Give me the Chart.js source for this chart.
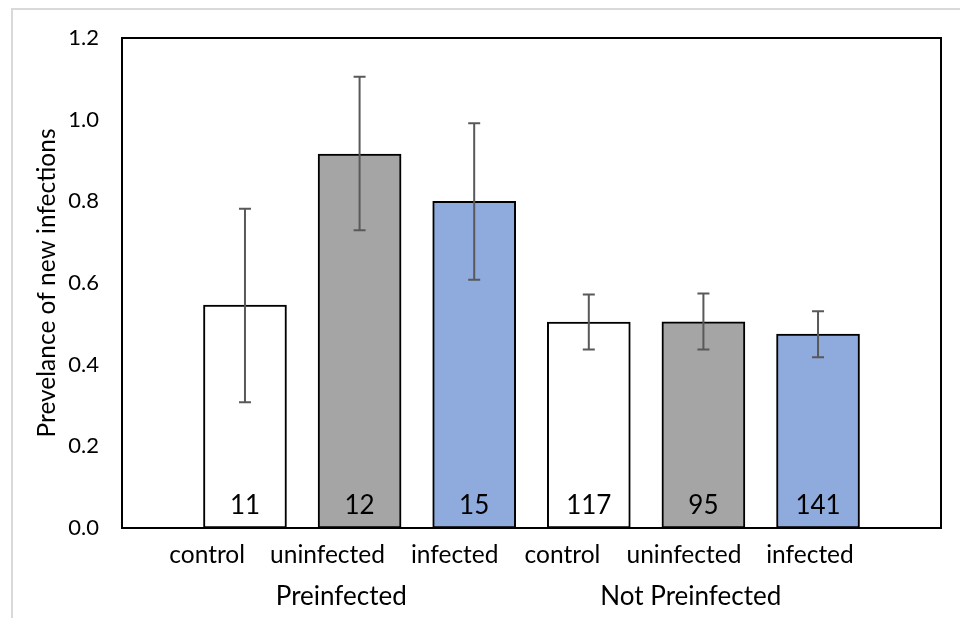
<!DOCTYPE html>
<html>
<head>
<meta charset="utf-8">
<script src="https://cdn.jsdelivr.net/npm/chart.js@4.4.1/dist/chart.umd.min.js"></script>
<style>
  html, body { margin: 0; padding: 0; background: #fff; }
  #frame { position: absolute; left: 11px; top: 8px; width: 1000px; height: 700px;
           border-left: 2px solid #d9d9d9; border-top: 2px solid #d9d9d9; }
  #chart { position: absolute; left: 0; top: 0; }
</style>
</head>
<body>
<div id="frame"></div>
<canvas id="chart" width="960" height="618"></canvas>
<script>
// categories and groups
const categories = ["control", "uninfected", "infected", "control", "uninfected", "infected"];
const groups = ["Preinfected", "Not Preinfected"];

// prevalence of new infections per bar, with error bar ends
const prevalence = [0.546, 0.916, 0.800, 0.504, 0.505, 0.475];
const errHigh = [0.782, 1.105, 0.991, 0.572, 0.574, 0.531];
const errLow = [0.308, 0.729, 0.608, 0.437, 0.437, 0.418];

// sample sizes printed inside bars
const counts = [11, 12, 15, 117, 95, 141];

// y axis ticks
const yTicks = [0, 0.2, 0.4, 0.6, 0.8, 1.0, 1.2];

// where the labels sit along the x axis (bars sit at 1..6)
const labelPos = [0.67, 1.72, 2.83, 3.77, 4.83, 5.93];
const groupPos = [1.84, 4.89];
const countY = 0.055;

const barColors = ["#ffffff", "#a5a5a5", "#8faadc", "#ffffff", "#a5a5a5", "#8faadc"];
const FONT = "Lato, 'Open Sans', sans-serif";

const extras = {
  id: "extras",
  afterDatasetsDraw(chart) {
    const ctx = chart.ctx;
    const x = chart.scales.x, y = chart.scales.y;
    const area = chart.chartArea;

    // error bars
    ctx.save();
    ctx.strokeStyle = "#595959";
    ctx.lineWidth = 2;
    prevalence.forEach((v, i) => {
      const px = x.getPixelForValue(i + 1);
      const hi = y.getPixelForValue(errHigh[i]);
      const lo = y.getPixelForValue(errLow[i]);
      ctx.beginPath();
      ctx.moveTo(px, hi); ctx.lineTo(px, lo);
      ctx.moveTo(px - 6, hi); ctx.lineTo(px + 6, hi);
      ctx.moveTo(px - 6, lo); ctx.lineTo(px + 6, lo);
      ctx.stroke();
    });

    // counts inside bars
    ctx.fillStyle = "#000";
    ctx.font = "26px " + FONT;
    ctx.textAlign = "center";
    ctx.textBaseline = "middle";
    counts.forEach((c, i) => {
      ctx.fillText(String(c), x.getPixelForValue(i + 1), y.getPixelForValue(countY));
    });

    // group labels
    ctx.font = "26px " + FONT;
    groups.forEach((g, i) => {
      ctx.fillText(g, x.getPixelForValue(groupPos[i]), area.bottom + 69);
    });

    // plot frame
    ctx.strokeStyle = "#000";
    ctx.lineWidth = 2;
    ctx.strokeRect(area.left, area.top, area.right - area.left, area.bottom - area.top);
    ctx.restore();
  }
};

new Chart(document.getElementById("chart"), {
  type: "bar",
  data: {
    datasets: [{
      data: prevalence.map((v, i) => ({ x: i + 1, y: v })),
      backgroundColor: barColors,
      borderColor: "#000",
      borderWidth: 2,
      borderSkipped: false,
      barThickness: 83
    }]
  },
  options: {
    responsive: false,
    animation: false,
    layout: { padding: { top: 38, right: 19, left: 0, bottom: 0 } },
    plugins: { legend: { display: false }, tooltip: { enabled: false } },
    scales: {
      x: {
        type: "linear",
        offset: false,
        bounds: "ticks",
        min: -0.073,
        max: 7.073,
        grid: { display: false, drawTicks: false },
        border: { display: false },
        afterBuildTicks(scale) { scale.ticks = labelPos.map(v => ({ value: v })); },
        afterFit(scale) { scale.height = 90; },
        ticks: {
          padding: 12,
          color: "#000",
          font: { family: FONT, size: 24.5 },
          autoSkip: false,
          maxRotation: 0,
          callback: (v, i) => categories[i]
        }
      },
      y: {
        min: 0,
        max: 1.2,
        grid: { display: false, drawTicks: false },
        border: { display: false },
        afterBuildTicks(scale) { scale.ticks = yTicks.map(v => ({ value: v })); },
        afterFit(scale) { scale.width = 122; },
        ticks: {
          padding: 23,
          color: "#000",
          font: { family: FONT, size: 22 },
          callback: v => v.toFixed(1)
        },
        title: {
          display: true,
          text: "Prevelance of new infections",
          color: "#000",
          font: { family: FONT, size: 24.5 },
          padding: { top: 32, bottom: 0 }
        }
      }
    }
  },
  plugins: [extras]
});
</script>
</body>
</html>
